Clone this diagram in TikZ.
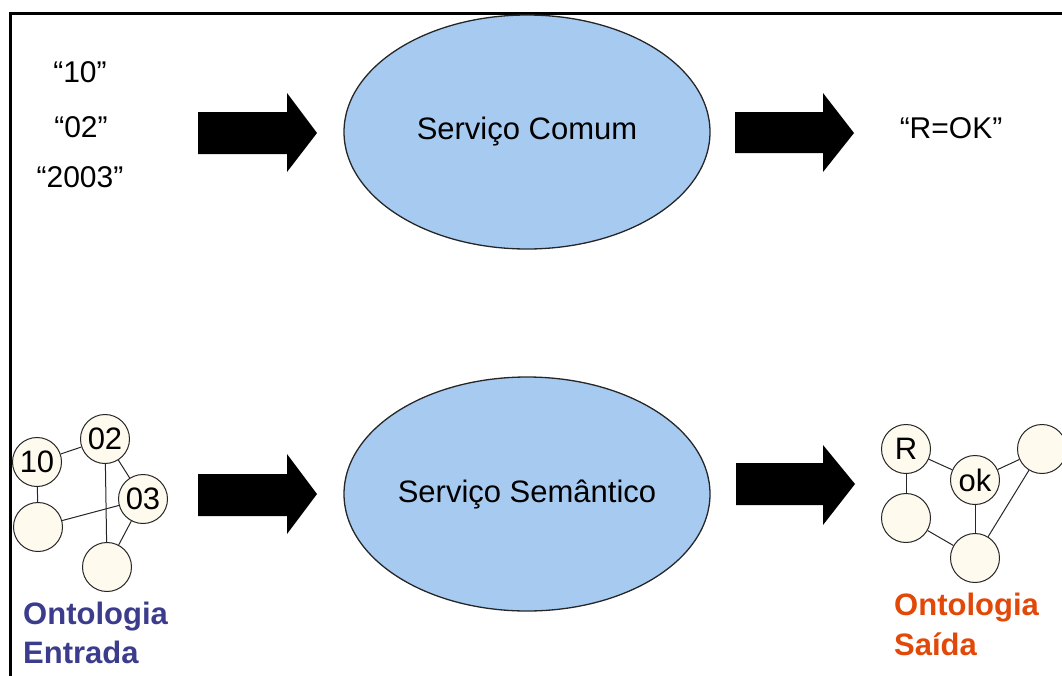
\documentclass[tikz,border=0pt]{standalone}
\usepackage{fontspec}
\setmainfont{Liberation Sans}
\usetikzlibrary{shapes.geometric}
\definecolor{ellblue}{RGB}{166,202,240}
\definecolor{cream}{RGB}{255,250,238}
\definecolor{ontblue}{RGB}{60,60,140}
\definecolor{ontorange}{RGB}{226,72,8}
\tikzset{
  svc/.style={ellipse, draw=black!85, line width=1.3pt, fill=ellblue,
    minimum width=366pt, minimum height=234pt, inner sep=0pt,
    font=\fontsize{31}{36}\selectfont},
  onode/.style={circle, draw=black!85, line width=1pt, fill=cream,
    minimum size=49pt, inner sep=0pt, font=\fontsize{31}{36}\selectfont},
  oedge/.style={draw=black!85, line width=1pt},
  txt/.style={inner sep=0pt, font=\fontsize{30}{35}\selectfont},
  ont/.style={inner sep=0pt, anchor=west, font=\fontsize{31}{36}\selectfont\bfseries},
  blockarrow/.style={fill=black}
}
\begin{document}
\begin{tikzpicture}[x=1pt,y=-1pt]
\useasboundingbox (0,0) rectangle (1062,675);
% frame
\draw[line width=3pt] (10.5,676) -- (10.5,13.5) -- (1063,13.5);

% top row
\node[txt] (t10) at (80,72) {“10”};
\node[txt] (t02) at (81,127) {“02”};
\node[txt] (t2003) at (80,177) {“2003”};
\node[svc] (comum) at (527,132) {Serviço Comum};
\node[txt] (rok) at (951,128) {“R=OK”};

% bottom row
\node[svc] (sem) at (527,494) {Serviço Semântico};

% block arrows
\fill[blockarrow] (198,112) -- (287,112) -- (287,93) -- (317,133) -- (287,172) -- (287,154) -- (198,154) -- cycle;
\fill[blockarrow] (735,112) -- (823,112) -- (823,93) -- (854,133) -- (823,172) -- (823,153) -- (735,153) -- cycle;
\fill[blockarrow] (198,474) -- (287,474) -- (287,454) -- (317,494) -- (287,534) -- (287,516) -- (198,516) -- cycle;
\fill[blockarrow] (736,463) -- (823,463) -- (823,445) -- (855,484) -- (823,525) -- (823,505) -- (736,505) -- cycle;

% input ontology
\node[onode] (a10) at (37,462) {10};
\node[onode] (a02) at (105,439) {02};
\node[onode] (a03) at (143,499) {03};
\node[onode] (aL) at (38,527) {};
\node[onode] (aB) at (107,567) {};
\draw[oedge] (a10) -- (a02);
\draw[oedge] (a10) -- (aL);
\draw[oedge] (a02) -- (a03);
\draw[oedge] (a02) -- (aB);
\draw[oedge] (aL) -- (a03);
\draw[oedge] (a03) -- (aB);
\node[ont, text=ontblue] (oe1) at (23,617) {Ontologia};
\node[ont, text=ontblue] (oe2) at (23,652) {Entrada};

% output ontology
\node[onode] (bR) at (906,449) {R};
\node[onode] (bok) at (975,480) {ok};
\node[onode] (bTR) at (1042,449) {};
\node[onode] (bL) at (906,518) {};
\node[onode] (bB) at (975,558) {};
\draw[oedge] (bR) -- (bok);
\draw[oedge] (bR) -- (bL);
\draw[oedge] (bok) -- (bTR);
\draw[oedge] (bok) -- (bB);
\draw[oedge] (bTR) -- (bB);
\draw[oedge] (bL) -- (bB);
\node[ont, text=ontorange] (os1) at (894,608) {Ontologia};
\node[ont, text=ontorange] (os2) at (894,644) {Saída};
\end{tikzpicture}
\end{document}
